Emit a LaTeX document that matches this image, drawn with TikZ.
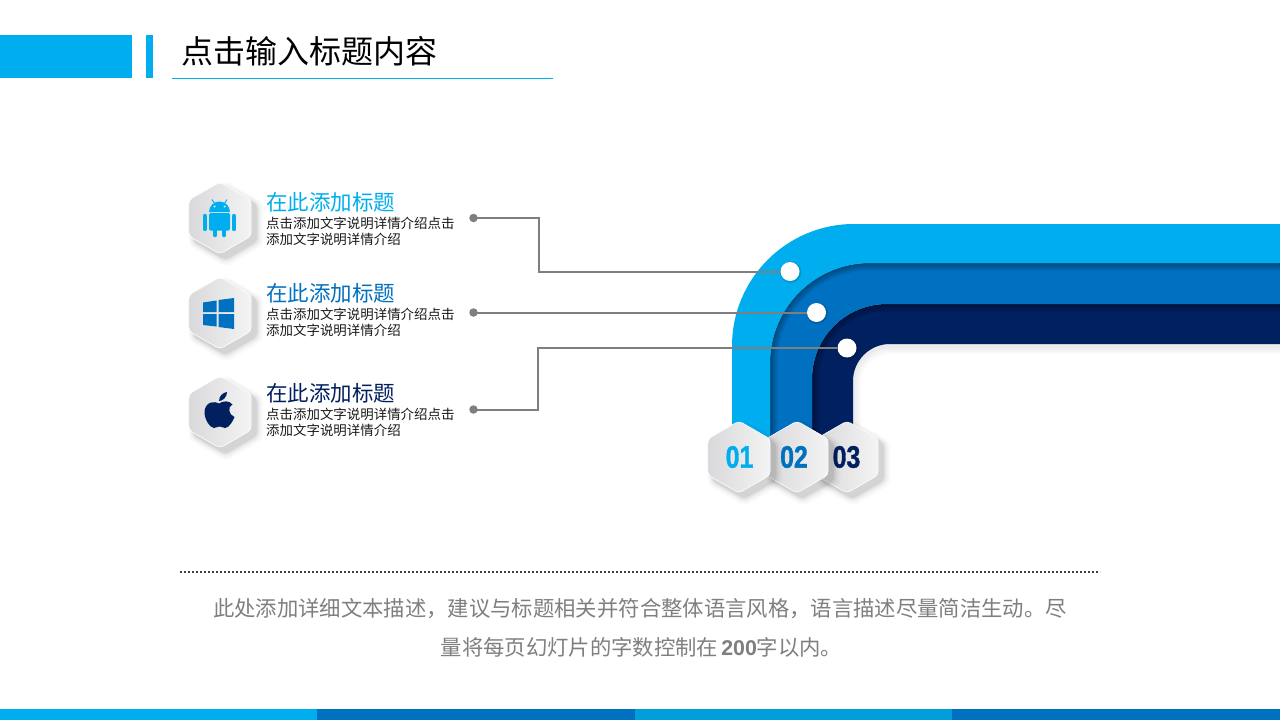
\documentclass[tikz,border=0pt]{standalone}
\usepackage{fontspec}
\setmainfont{Noto Sans CJK SC}
\newfontfamily\numfont[FakeStretch=0.8,FakeBold=1.2]{Liberation Sans}
\newfontfamily\latinbold{Liberation Sans}
\usetikzlibrary{shapes.geometric,shadows}
\definecolor{cLight}{HTML}{00AEEF}
\definecolor{cMid}{HTML}{0070C0}
\definecolor{cNavy}{HTML}{002060}
\definecolor{cGrey}{HTML}{7F7F7F}
\definecolor{cBar}{HTML}{009FDA}
\definecolor{hexGrey}{HTML}{D9D9DB}
\tikzset{
  x=1pt,y=-1pt,
  softshadow/.style={general shadow={fill=black,opacity=.02,shadow xshift=#1,shadow yshift=-#1,shadow scale=1.2},
    general shadow={fill=black,opacity=.03,shadow xshift=#1,shadow yshift=-#1,shadow scale=1.14},
    general shadow={fill=black,opacity=.05,shadow xshift=#1,shadow yshift=-#1,shadow scale=1.08},
    general shadow={fill=black,opacity=.07,shadow xshift=#1,shadow yshift=-#1,shadow scale=1.03}},
  hexbox/.style={regular polygon,regular polygon sides=6,regular polygon rotate=30,minimum size=72pt,inner sep=0pt,
    rounded corners=4pt,left color=hexGrey,right color=hexGrey!30!white,middle color=hexGrey!65!white,softshadow=5pt,draw=white,line width=.6pt},
  numtext/.style={inner sep=0pt,font=\numfont\bfseries\fontsize{31}{31}\selectfont},
  headtext/.style={anchor=west,inner sep=0pt,font=\fontsize{21.5}{24}\selectfont},
  bodytext/.style={anchor=north west,inner sep=0pt,align=left,text=black!90,font=\fontsize{13.45}{16}\selectfont},
  conn/.style={draw=cGrey,line width=2pt},
  dotend/.style={circle,fill=cGrey,minimum size=8.5pt,inner sep=0pt},
  whiteend/.style={circle,fill=white,minimum size=19pt,inner sep=0pt,general shadow={fill=black,opacity=.15,shadow xshift=.6pt,shadow yshift=-.6pt,shadow scale=1.12}}
}
\begin{document}
\begin{tikzpicture}
\useasboundingbox (0,0) rectangle (1280,720);
\fill[white] (0,0) rectangle (1280,720);
% header
\fill[cLight] (0,35) rectangle (132,78);
\fill[cLight] (146,35) rectangle (153,78);
\node[anchor=west,inner sep=0pt,font=\fontsize{32}{36}\selectfont,text=black] (title) at (181,51) {点击输入标题内容};
\coordinate (ruleA) at (172,78.5);
\coordinate (ruleB) at (553,78.5);
\draw[cLight,line width=.8pt] (ruleA) -- (ruleB);
% footer bars
\fill[cLight] (0,709) rectangle (317,720);
\fill[cMid] (317,709) rectangle (635,720);
\fill[cBar] (635,709) rectangle (952,720);
\fill[cMid] (952,709) rectangle (1280,720);
% bands: soft shadow of the innermost edge on the page
\foreach \w in {4,8,12,16}{
  \draw[black,opacity=.018,line width=\w pt,rounded corners=37pt] (853,440) -- (853,346) -- (1280,346);
}
% navy band
\fill[cNavy] (812,440) -- (812,379) arc[start angle=180,end angle=270,radius=75] -- (1280,304) -- (1280,344) -- (890,344) arc[start angle=270,end angle=180,radius=37] -- (853,440) -- cycle;
\foreach \w in {3,6,9,12,15}{
  \draw[black,opacity=.07,line width=\w pt,rounded corners=75pt] (812,440) -- (812,304) -- (1280,304);
}
% mid band
\fill[cMid] (770,440) -- (770,363) arc[start angle=180,end angle=270,radius=100] -- (1280,263) -- (1280,304) -- (887,304) arc[start angle=270,end angle=180,radius=75] -- (812,440) -- cycle;
\foreach \w in {3,6,9,12,15}{
  \draw[black,opacity=.07,line width=\w pt,rounded corners=100pt] (770,440) -- (770,263) -- (1280,263);
}
% light band
\fill[cLight] (732,440) -- (732,346) arc[start angle=180,end angle=270,radius=122] -- (1280,224) -- (1280,263) -- (870,263) arc[start angle=270,end angle=180,radius=100] -- (770,440) -- cycle;
% numbered hexagons
\node[hexbox] (h3) at (847,457) {};
\node[numtext,text=cNavy] (n3) at (846.5,457) {03};
\node[hexbox] (h2) at (797,457) {};
\node[numtext,text=cMid] (n2) at (794,457) {02};
\node[hexbox] (h1) at (739,457) {};
\node[numtext,text=cLight] (n1) at (739.5,457) {01};
% left hexagons
\node[hexbox] (a1) at (220,218) {};
\node[hexbox] (a2) at (220,313) {};
\node[hexbox] (a3) at (220,412) {};
% android icon
\fill[cLight] (209,212) arc[start angle=180,end angle=360,radius=10.5] -- cycle;
\fill[cLight,rounded corners=1.5pt] (209,213) rectangle (230,230.5);
\draw[cLight,line width=4.4pt,line cap=round] (205,216) -- (205,229);
\draw[cLight,line width=4.4pt,line cap=round] (234,216) -- (234,229);
\draw[cLight,line width=4.6pt,line cap=round] (215,229) -- (215,235);
\draw[cLight,line width=4.6pt,line cap=round] (224,229) -- (224,235);
\draw[cLight,line width=1pt] (212,199.5) -- (214.5,203.5);
\draw[cLight,line width=1pt] (227,199.5) -- (224.5,203.5);
\fill[white] (214.5,206.5) circle[radius=1];
\fill[white] (224.5,206.5) circle[radius=1];
% windows icon
\fill[cMid] (203,302.5) -- (216.5,300.5) -- (216.5,312) -- (203,312) -- cycle;
\fill[cMid] (218.5,300) -- (234,298) -- (234,312) -- (218.5,312) -- cycle;
\fill[cMid] (203,314) -- (216.5,314) -- (216.5,326.5) -- (203,325) -- cycle;
\fill[cMid] (218.5,314) -- (234,314) -- (234,329) -- (218.5,327) -- cycle;
% apple icon
\fill[cNavy] (219,403.5) .. controls (215,401) and (206,401) .. (204.5,411) .. controls (204,419) and (210,428) .. (214,428) .. controls (216,428) and (217,426.5) .. (219.5,426.5) .. controls (222,426.5) and (223,428) .. (225,428) .. controls (229,428) and (233,421) .. (234.5,417) .. controls (229,415) and (227,407) .. (232.5,404.5) .. controls (229,400) and (223,401) .. (219,403.5) -- cycle;
\fill[cNavy] (219,401) .. controls (219,396) and (223,392.5) .. (227,392) .. controls (227,397) and (223,401) .. (219,401) -- cycle;
% left texts
\node[headtext,text=cLight] (t1) at (266,202) {在此添加标题};
\node[bodytext] (b1) at (266,217) {点击添加文字说明详情介绍点击\\添加文字说明详情介绍};
\node[headtext,text=cMid] (t2) at (266,293) {在此添加标题};
\node[bodytext] (b2) at (266,308) {点击添加文字说明详情介绍点击\\添加文字说明详情介绍};
\node[headtext,text=cNavy] (t3) at (266,393) {在此添加标题};
\node[bodytext] (b3) at (266,408) {点击添加文字说明详情介绍点击\\添加文字说明详情介绍};
% connectors
\node[whiteend] (w1) at (790,271.5) {};
\node[whiteend] (w2) at (816.5,312.5) {};
\node[whiteend] (w3) at (847,348) {};
\node[dotend] (d1) at (473.5,218) {};
\node[dotend] (d2) at (473.5,312.5) {};
\node[dotend] (d3) at (473.5,409.5) {};
\coordinate (m1) at (539,245);
\coordinate (m3) at (538,378);
\draw[conn] (d1.center) -| (m1) |- (w1.west);
\draw[conn] (d2.center) -- (w2.west);
\draw[conn] (d3.center) -| (m3) |- (w3.west);
% bottom text
\coordinate (dotA) at (180,572);
\coordinate (dotB) at (1100,572);
\draw[black!75,line width=1.5pt,dash pattern=on 2pt off 2pt] (dotA) -- (dotB);
\node[inner sep=0pt,text=cGrey,font=\fontsize{21.35}{24}\selectfont] (desc1) at (640,609) {此处添加详细文本描述，建议与标题相关并符合整体语言风格，语言描述尽量简洁生动。尽};
\node[inner sep=0pt,text=cGrey,font=\fontsize{21.35}{24}\selectfont] (desc2) at (641.5,647) {量将每页幻灯片的字数控制在\hspace{3pt}{\latinbold\bfseries 200}字以内。};
\end{tikzpicture}
\end{document}
